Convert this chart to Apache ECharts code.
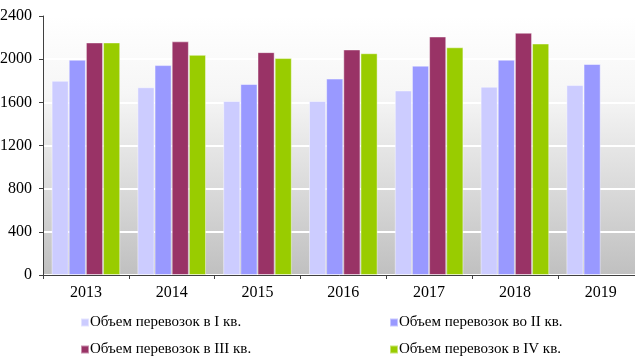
<!DOCTYPE html>
<html><head><meta charset="utf-8">
<script src="https://cdn.jsdelivr.net/npm/echarts@6/dist/echarts.min.js"></script>
<style>html,body{margin:0;padding:0;background:#fff}#c{width:635px;height:361px}</style>
</head><body><div id="c"></div>
<script>
const categories = ['2013','2014','2015','2016','2017','2018','2019'];
const seriesNames = ['Объем перевозок в I кв.','Объем перевозок во II кв.','Объем перевозок в III кв.','Объем перевозок в IV кв.'];
const q1 = [1800, 1740, 1612, 1612, 1710, 1745, 1760];
const q2 = [1995, 1945, 1770, 1820, 1940, 1995, 1955];
const q3 = [2155, 2165, 2065, 2090, 2210, 2245, null];
const q4 = [2155, 2040, 2010, 2055, 2110, 2145, null];
const yTicks = {min: 0, max: 2400, interval: 400};
const colors = ['#ccccff','#9999ff','#993366','#99cc00'];
const font = '"Liberation Serif","Times New Roman",serif';

const chart = echarts.init(document.getElementById('c'));
const data = [q1,q2,q3,q4];
const legendPos = [[80,315],[389,315],[80,342],[389,342]];
chart.setOption({
  animation:false,
  textStyle:{fontFamily:font},
  grid:{left:43, top:16, height:259, width:600.6, show:true, borderWidth:0, outerBoundsMode:'none', containLabel:false,
     backgroundColor:new echarts.graphic.LinearGradient(0,0,0,1,[{offset:0,color:'#ffffff'},{offset:0.3,color:'#f6f6f6'},{offset:1,color:'#c0c0c0'}])},
  legend: seriesNames.map((n,i)=>({
    data:[n], left:legendPos[i][0], top:legendPos[i][1], icon:'rect', itemWidth:8, itemHeight:8, itemGap:0,
    textStyle:{fontFamily:font, fontSize:15, color:'#000', padding:[0,0,0,-4]}, padding:0, selectedMode:false
  })),
  xAxis:{type:'category', data:categories,
     axisLine:{lineStyle:{color:'#404040', width:1}},
     axisTick:{show:true, length:4, lineStyle:{color:'#404040'}},
     axisLabel:{show:true, margin:10, fontFamily:font, fontSize:16, color:'#000'}},
  yAxis:{type:'value', min:yTicks.min, max:yTicks.max, interval:yTicks.interval,
     axisLine:{show:true, lineStyle:{color:'#404040'}},
     axisTick:{show:true, length:4, lineStyle:{color:'#404040'}},
     splitLine:{show:true, lineStyle:{color:'#ffffff', width:2}},
     axisLabel:{margin:11, fontFamily:font, fontSize:16, color:'#000', formatter:v=>String(v)}},
  series: seriesNames.map((n,i)=>({
    name:n, type:'bar', data:data[i],
    barGap:'0%', barCategoryGap:'20%',
    itemStyle:{color:colors[i], borderColor:'rgba(255,255,255,0.45)', borderWidth:1}
  }))
});
</script></body></html>
